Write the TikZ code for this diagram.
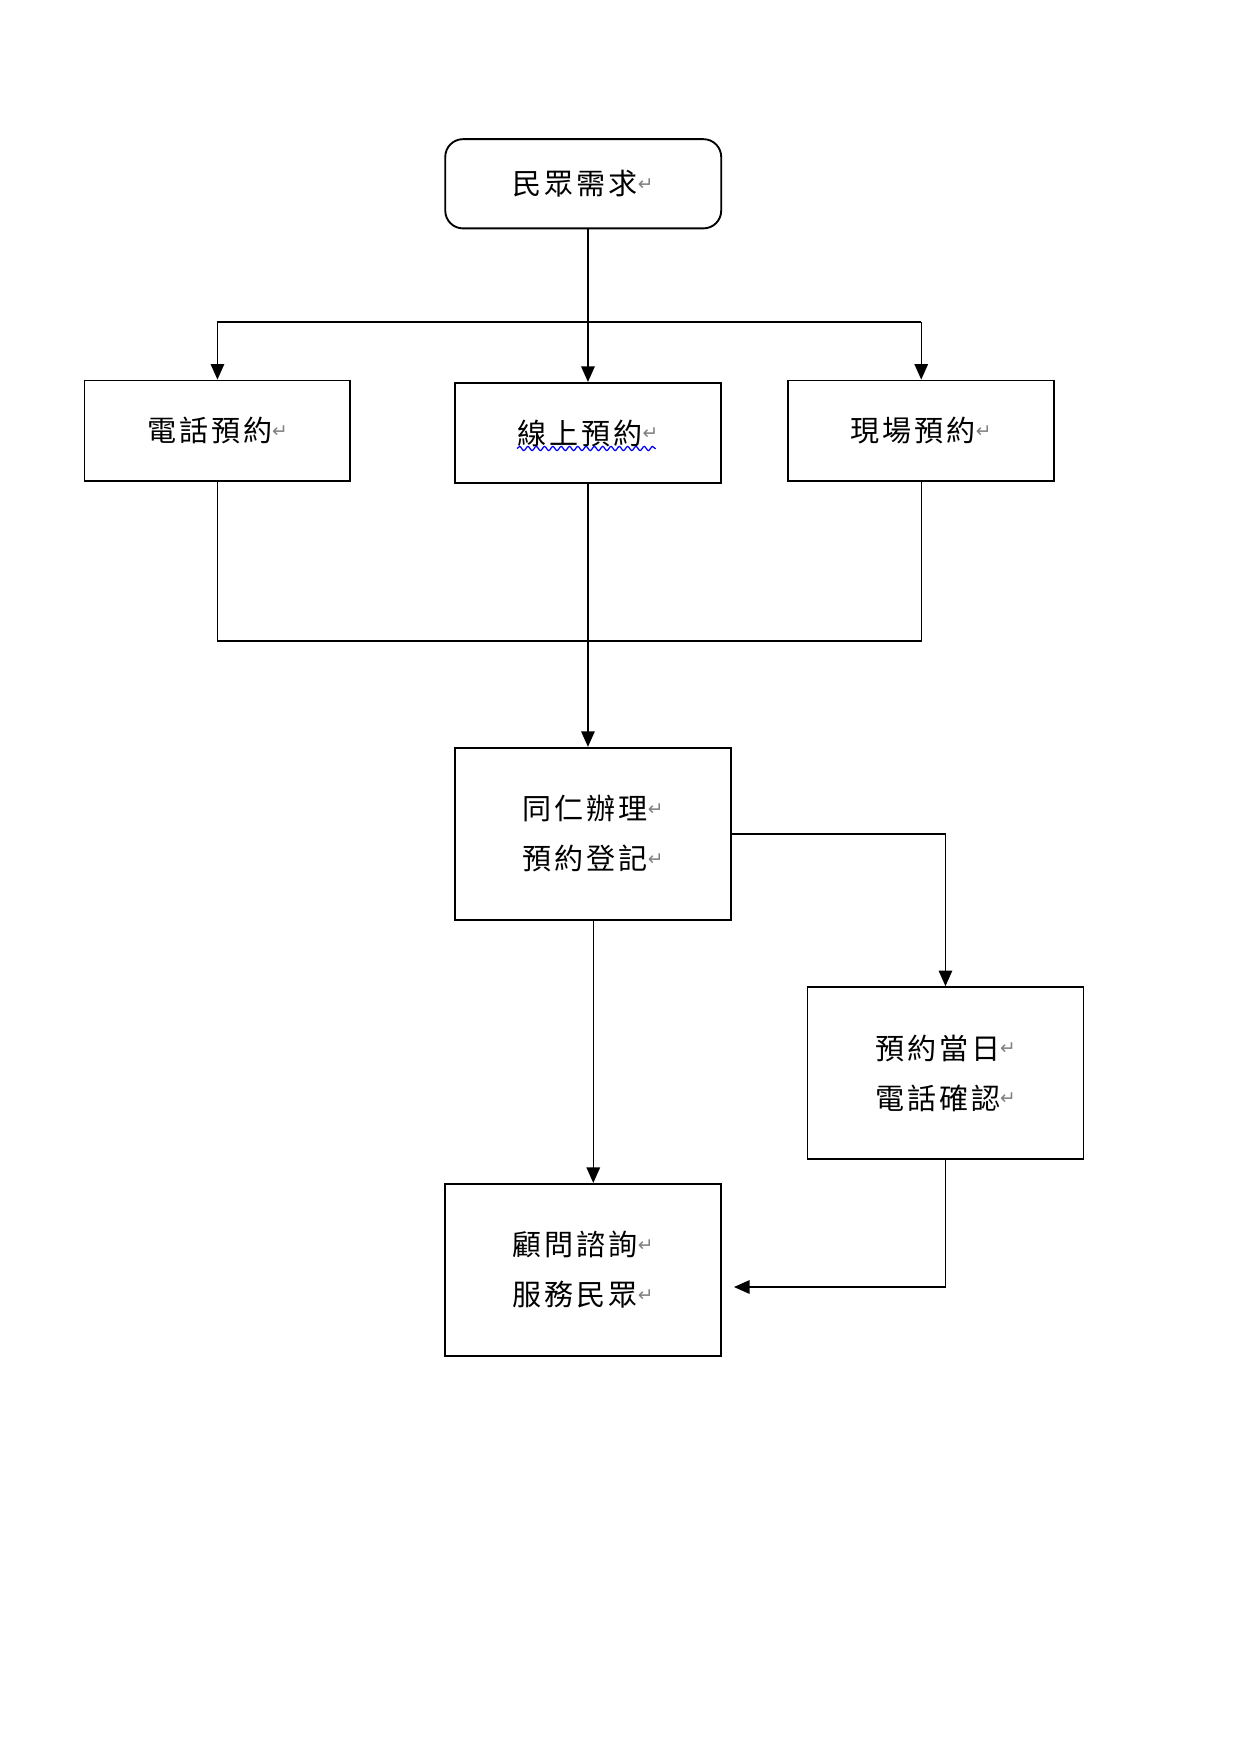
\documentclass[tikz,border=0pt]{standalone}
\usepackage{fontspec}
\newfontfamily\cjk[LetterSpace=10]{Noto Sans CJK TC}
\newfontfamily\markfont{DejaVu Sans}
\usetikzlibrary{positioning,arrows.meta,decorations.pathmorphing}
\newcommand{\ret}{\raisebox{0.15em}{\markfont\fontsize{9}{9}\selectfont\textcolor{gray}{↵}}}

\begin{document}
\begin{tikzpicture}[
  box/.style={draw,line width=0.9pt,align=center,inner sep=0pt,font=\cjk\fontsize{14}{24}\selectfont},
  wide/.style={minimum width=4.5cm,minimum height=1.7cm},
  tall/.style={minimum width=4.67cm,minimum height=2.91cm},
  link/.style={line width=0.7pt},
  arr/.style={link,-{Triangle[length=7.5pt,width=6.5pt]}}]
 \useasboundingbox (0,0) rectangle (21,-29.7);
 \node[box,rounded corners=0.3cm,minimum width=4.67cm,minimum height=1.51cm] (need) at (9.87,-3.11) {民眾需求\ret};
 \node[box,wide] (phone) at (3.68,-7.29) {電話預約\ret};
 \node[box,wide] (online) at (9.95,-7.33) {線上預約\ret};
 \node[box,wide] (onsite) at (15.59,-7.29) {現場預約\ret};
 \node[box,tall] (handle) at (10.04,-14.11) {同仁辦理\ret\\預約登記\ret};
 \node[box,tall] (confirm) at (16.0,-18.16) {預約當日\ret\\電話確認\ret};
 \node[box,tall] (serve) at (9.87,-21.49) {顧問諮詢\ret\\服務民眾\ret};
 \coordinate (bus) at (0,-5.45);
 \coordinate (merge) at (0,-10.85);
 \coordinate (back) at ([xshift=0.2cm,yshift=-0.29cm]serve.east);
 \draw[blue,line width=0.6pt,decorate,decoration={snake,amplitude=1pt,segment length=4pt}]([xshift=-1.2cm,yshift=-0.26cm]online.center)--([xshift=1.15cm,yshift=-0.26cm]online.center);
 \draw[link](phone.north |- bus)--(onsite.north |- bus);
 \draw[arr](need.south -| online)--(online.north);
 \draw[arr](phone.north |- bus)--(phone.north);
 \draw[arr](onsite.north |- bus)--(onsite.north);
 \draw[link](phone.south)--(phone.south |- merge)--(onsite.south |- merge)--(onsite.south);
 \draw[arr](online.south)--(online.south |- handle.north);
 \draw[arr](handle.east)-|(confirm.north);
 \draw[arr](handle.south)--(handle.south |- serve.north);
 \draw[arr](confirm.south)|-(back);
\end{tikzpicture}
\end{document}
